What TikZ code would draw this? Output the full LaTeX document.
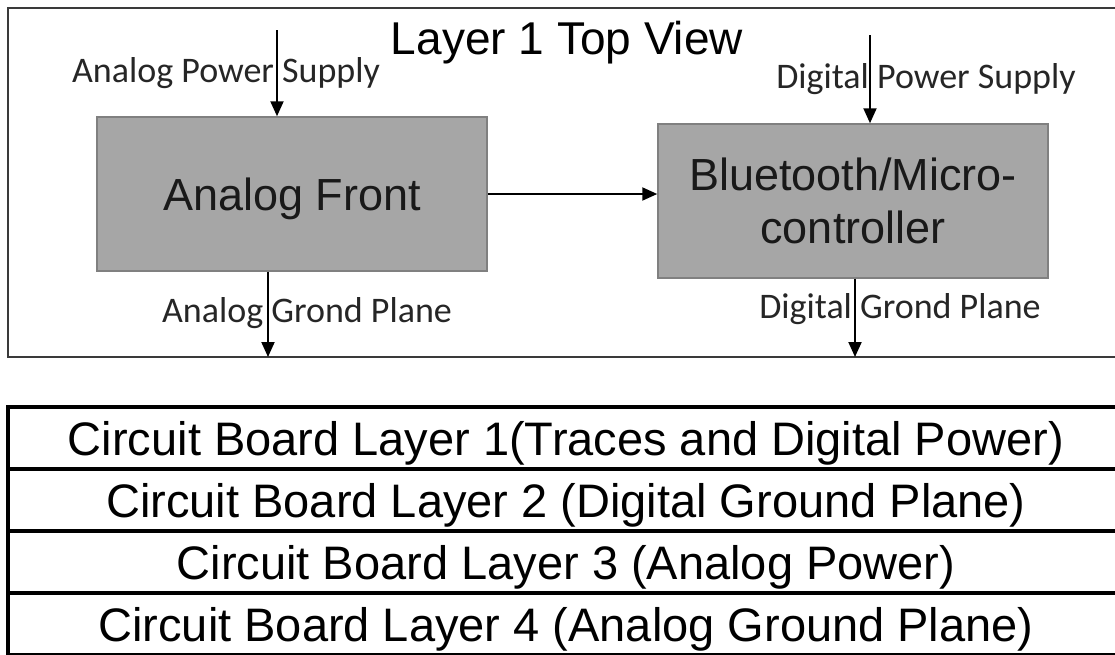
\documentclass[tikz,border=0pt]{standalone}
\usepackage{fontspec}
\setmainfont{Liberation Sans}
\newfontfamily\lblfont{Carlito}
\usepackage{xcolor}
\usetikzlibrary{arrows.meta, positioning, calc}
\definecolor{boxfill}{HTML}{A6A6A6}
\definecolor{boxline}{HTML}{808080}
\definecolor{frameline}{HTML}{3A3A3A}
\definecolor{lbltext}{HTML}{262626}

\begin{document}
\begin{tikzpicture}[x=1pt, y=-1pt,
    block/.style={draw=boxline, line width=1.5pt, fill=boxfill, minimum width=390pt, minimum height=154pt, inner sep=0pt, align=center, text=black!90},
    lbl/.style={anchor=base, inner sep=0pt, text=lbltext, font=\lblfont\fontsize{36}{40}\selectfont},
    sig/.style={line width=2pt, -{Triangle[width=13pt, length=15pt]}},
    layer/.style={draw=black, line width=3.5pt, outer sep=0pt, minimum width=1116pt, minimum height=62pt, inner sep=0pt, text height=36pt, text depth=2pt, font=\fontsize{47}{50}\selectfont}]
    \useasboundingbox (0,0) rectangle (1115,654);
    \fill[white] (0,0) rectangle (1115,654);

    % top view frame
    \node[draw=frameline, line width=2.5pt, minimum width=1117pt, minimum height=349pt, outer sep=0pt] (view) at (566.5,182.5) {};
    \node[anchor=base, inner sep=0pt, font=\fontsize{46}{50}\selectfont] (title) at (567,54) {Layer 1 Top View};

    \node[block, text depth=0pt, font=\fontsize{45}{50}\selectfont] (afront) at (292,194) {Analog Front};
    \node[block, font=\fontsize{45}{53}\selectfont] (bt) at (853,201) {Bluetooth/Micro-\\controller};

    % supply and ground labels
    \node[lbl] (apwr) at (226,82) {Analog Power Supply};
    \node[lbl] (dpwr) at (926,88) {Digital Power Supply};
    \node[lbl] (agndl) at (307,322) {Analog Grond Plane};
    \node[lbl] (dgndl) at (900,318) {Digital Grond Plane};

    \coordinate (apin) at (277,30);
    \coordinate (dpin) at (870,35);
    \coordinate (agnd) at (268,357);
    \coordinate (dgnd) at (855,357);

    \draw[sig] (apin) -- (apin |- afront.north);
    \draw[sig] (dpin) -- (dpin |- bt.north);
    \draw[sig] (agnd |- afront.south) -- (agnd);
    \draw[sig] (dgnd |- bt.south) -- (dgnd);
    \draw[sig] (afront.east) -- (bt.west |- afront.east);

    % board layers
    \node[layer] (l1) at (566,438) {Circuit Board Layer 1(Traces and Digital Power)};
    \node[layer, below=0pt of l1] (l2) {Circuit Board Layer 2 (Digital Ground Plane)};
    \node[layer, below=0pt of l2] (l3) {Circuit Board Layer 3 (Analog Power)};
    \node[layer, below=0pt of l3] (l4) {Circuit Board Layer 4 (Analog Ground Plane)};
\end{tikzpicture}
\end{document}
